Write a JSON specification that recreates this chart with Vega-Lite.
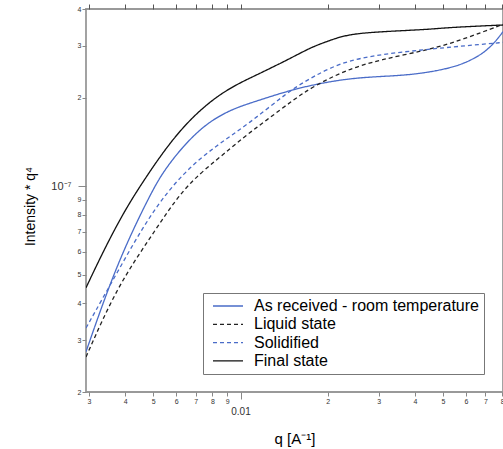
{
  "$schema": "https://vega.github.io/schema/vega-lite/v6.json",
  "width": 417,
  "height": 383,
  "autosize": "none",
  "padding": {"left": 86, "top": 9, "right": 0, "bottom": 57},
  "config": {
    "font": "Liberation Sans",
    "view": {"stroke": "#999", "strokeWidth": 1.8},
    "axis": {"grid": false, "domain": false, "tickColor": "#888", "tickWidth": 1, "labelColor": "#333", "labelFont": "Liberation Sans", "titleFont": "Liberation Sans", "titleColor": "#000", "titleFontWeight": "normal"}
  },
  "data": {"values": [
    {"series": "As received - room temperature", "q": 0.00293, "I": 2.74e-8},
    {"series": "As received - room temperature", "q": 0.003748, "I": 5.49e-8},
    {"series": "As received - room temperature", "q": 0.004908, "I": 9.5e-8},
    {"series": "As received - room temperature", "q": 0.005443, "I": 1.13e-7},
    {"series": "As received - room temperature", "q": 0.006378, "I": 1.38e-7},
    {"series": "As received - room temperature", "q": 0.007655, "I": 1.64e-7},
    {"series": "As received - room temperature", "q": 0.009262, "I": 1.82e-7},
    {"series": "As received - room temperature", "q": 0.01086, "I": 1.92e-7},
    {"series": "As received - room temperature", "q": 0.01335, "I": 2.05e-7},
    {"series": "As received - room temperature", "q": 0.01528, "I": 2.13e-7},
    {"series": "As received - room temperature", "q": 0.01777, "I": 2.21e-7},
    {"series": "As received - room temperature", "q": 0.02327, "I": 2.32e-7},
    {"series": "As received - room temperature", "q": 0.03024, "I": 2.36e-7},
    {"series": "As received - room temperature", "q": 0.0393, "I": 2.39e-7},
    {"series": "As received - room temperature", "q": 0.0515, "I": 2.5e-7},
    {"series": "As received - room temperature", "q": 0.06034, "I": 2.63e-7},
    {"series": "As received - room temperature", "q": 0.07072, "I": 2.87e-7},
    {"series": "As received - room temperature", "q": 0.0784, "I": 3.23e-7},
    {"series": "As received - room temperature", "q": 0.0805, "I": 3.35e-7},
    {"series": "Liquid state", "q": 0.00293, "I": 2.63e-8},
    {"series": "Liquid state", "q": 0.003748, "I": 4.55e-8},
    {"series": "Liquid state", "q": 0.004908, "I": 6.73e-8},
    {"series": "Liquid state", "q": 0.006378, "I": 9.96e-8},
    {"series": "Liquid state", "q": 0.008289, "I": 1.23e-7},
    {"series": "Liquid state", "q": 0.01027, "I": 1.47e-7},
    {"series": "Liquid state", "q": 0.01233, "I": 1.68e-7},
    {"series": "Liquid state", "q": 0.01528, "I": 1.97e-7},
    {"series": "Liquid state", "q": 0.01777, "I": 2.18e-7},
    {"series": "Liquid state", "q": 0.02327, "I": 2.49e-7},
    {"series": "Liquid state", "q": 0.03024, "I": 2.69e-7},
    {"series": "Liquid state", "q": 0.04498, "I": 2.91e-7},
    {"series": "Liquid state", "q": 0.05847, "I": 3.15e-7},
    {"series": "Liquid state", "q": 0.0805, "I": 3.55e-7},
    {"series": "Solidified", "q": 0.00293, "I": 3.3e-8},
    {"series": "Solidified", "q": 0.003748, "I": 5.08e-8},
    {"series": "Solidified", "q": 0.004908, "I": 8.13e-8},
    {"series": "Solidified", "q": 0.006378, "I": 1.12e-7},
    {"series": "Solidified", "q": 0.008289, "I": 1.38e-7},
    {"series": "Solidified", "q": 0.01069, "I": 1.63e-7},
    {"series": "Solidified", "q": 0.01445, "I": 2.08e-7},
    {"series": "Solidified", "q": 0.01777, "I": 2.36e-7},
    {"series": "Solidified", "q": 0.02327, "I": 2.69e-7},
    {"series": "Solidified", "q": 0.03462, "I": 2.85e-7},
    {"series": "Solidified", "q": 0.0515, "I": 2.96e-7},
    {"series": "Solidified", "q": 0.0669, "I": 3.03e-7},
    {"series": "Solidified", "q": 0.0805, "I": 3.08e-7},
    {"series": "Final state", "q": 0.00293, "I": 4.52e-8},
    {"series": "Final state", "q": 0.00338, "I": 6.08e-8},
    {"series": "Final state", "q": 0.00396, "I": 8.19e-8},
    {"series": "Final state", "q": 0.004644, "I": 1.05e-7},
    {"series": "Final state", "q": 0.005707, "I": 1.41e-7},
    {"series": "Final state", "q": 0.006907, "I": 1.74e-7},
    {"series": "Final state", "q": 0.008289, "I": 2.02e-7},
    {"series": "Final state", "q": 0.009713, "I": 2.22e-7},
    {"series": "Final state", "q": 0.01139, "I": 2.39e-7},
    {"series": "Final state", "q": 0.01411, "I": 2.65e-7},
    {"series": "Final state", "q": 0.01528, "I": 2.76e-7},
    {"series": "Final state", "q": 0.01777, "I": 2.98e-7},
    {"series": "Final state", "q": 0.01985, "I": 3.1e-7},
    {"series": "Final state", "q": 0.02327, "I": 3.28e-7},
    {"series": "Final state", "q": 0.03024, "I": 3.35e-7},
    {"series": "Final state", "q": 0.04498, "I": 3.41e-7},
    {"series": "Final state", "q": 0.0515, "I": 3.46e-7},
    {"series": "Final state", "q": 0.0805, "I": 3.53e-7}
  ]},
  "layer": [
    {
      "mark": {"type": "line", "interpolate": "basis", "strokeWidth": 1.3, "clip": true},
      "encoding": {
        "x": {
          "field": "q", "type": "quantitative",
          "scale": {"type": "log", "domain": [0.00293, 0.0805], "nice": false},
          "axis": {
            "orient": "bottom",
            "values": [0.003, 0.004, 0.005, 0.006, 0.007, 0.008, 0.009, 0.01, 0.02, 0.03, 0.04, 0.05, 0.06, 0.07, 0.08],
            "labelExpr": "datum.value == 0.01 ? '0.01' : (datum.value < 0.01 ? format(datum.value * 1000, '.0f') : format(datum.value * 100, '.0f'))",
            "labelFontSize": {"condition": {"test": "datum.value == 0.01", "value": 10}, "value": 7},
            "labelPadding": {"condition": {"test": "datum.value == 0.01", "value": 7}, "value": 1},
            "tickSize": {"condition": {"test": "datum.value == 0.01", "value": 7}, "value": 4},
            "labelFlush": false,
            "labelOverlap": false,
            "title": "q [A⁻¹]",
            "titleFontSize": 15,
            "titleBaseline": "alphabetic",
            "titleY": 51
          }
        },
        "y": {
          "field": "I", "type": "quantitative",
          "scale": {"type": "log", "domain": [2e-8, 4e-7], "nice": false},
          "axis": {
            "values": [2e-8, 3e-8, 4e-8, 5e-8, 6e-8, 7e-8, 8e-8, 9e-8, 1e-7, 2e-7, 3e-7, 4e-7],
            "labelExpr": "(datum.value > 9.5e-8 && datum.value < 1.05e-7) ? '10⁻⁷' : format(datum.value < 1e-7 ? datum.value * 1e8 : datum.value * 1e7, '.0f')",
            "labelFontSize": {"condition": {"test": "datum.value > 9.5e-8 && datum.value < 1.05e-7", "value": 11}, "value": 7},
            "tickSize": {"condition": {"test": "datum.value > 9.5e-8 && datum.value < 1.05e-7", "value": 8}, "value": 4},
            "labelPadding": {"condition": {"test": "datum.value > 9.5e-8 && datum.value < 1.05e-7", "value": 7}, "value": 1},
            "labelFlush": false,
            "labelOverlap": false,
            "title": "Intensity * q⁴",
            "titleFontSize": 14,
            "titleX": -56,
            "titleY": 197,
            "titleAngle": -90,
            "titleAlign": "center",
            "titleBaseline": "middle"
          }
        },
        "color": {
          "field": "series", "type": "nominal",
          "scale": {
            "domain": ["As received - room temperature", "Liquid state", "Solidified", "Final state"],
            "range": ["#4a6cc8", "#222222", "#4a6cc8", "#111111"]
          },
          "legend": {
            "orient": "none", "legendX": 117, "legendY": 284,
            "title": null,
            "strokeColor": "#777", "fillColor": "#ffffff",
            "padding": 5,
            "labelFontSize": 16, "labelColor": "#000", "labelFont": "Liberation Sans",
            "symbolType": "M-1,0H9", "symbolSize": 36, "symbolStrokeWidth": 1.3,
            "labelOffset": 30, "rowPadding": 2.3, "labelLimit": 400
          }
        },
        "strokeDash": {
          "field": "series", "type": "nominal",
          "scale": {
            "domain": ["As received - room temperature", "Liquid state", "Solidified", "Final state"],
            "range": [[1, 0], [4, 3], [4, 3], [1, 0]]
          },
          "legend": {
            "orient": "none", "legendX": 117, "legendY": 284,
            "title": null,
            "strokeColor": "#777", "fillColor": "#ffffff",
            "padding": 5,
            "labelFontSize": 16, "labelColor": "#000", "labelFont": "Liberation Sans",
            "symbolType": "M-1,0H9", "symbolSize": 36, "symbolStrokeWidth": 1.3,
            "labelOffset": 30, "rowPadding": 2.3, "labelLimit": 400
          }
        }
      }
    },
    {
      "mark": {"type": "tick", "opacity": 0},
      "encoding": {
        "x": {
          "field": "q", "type": "quantitative",
          "scale": {"type": "log", "domain": [0.00293, 0.0805], "nice": false},
          "axis": {
            "orient": "top",
            "values": [0.003, 0.004, 0.005, 0.006, 0.007, 0.008, 0.009, 0.01, 0.02, 0.03, 0.04, 0.05, 0.06, 0.07, 0.08],
            "labels": false,
            "ticks": true,
            "domain": false,
            "title": null,
            "tickColor": "#555",
            "tickWidth": 1,
            "tickSize": 5,
            "zindex": 1
          }
        },
        "y": {"field": "I", "type": "quantitative"}
      }
    }
  ],
  "resolve": {"scale": {"x": "independent"}, "axis": {"x": "independent"}}
}
